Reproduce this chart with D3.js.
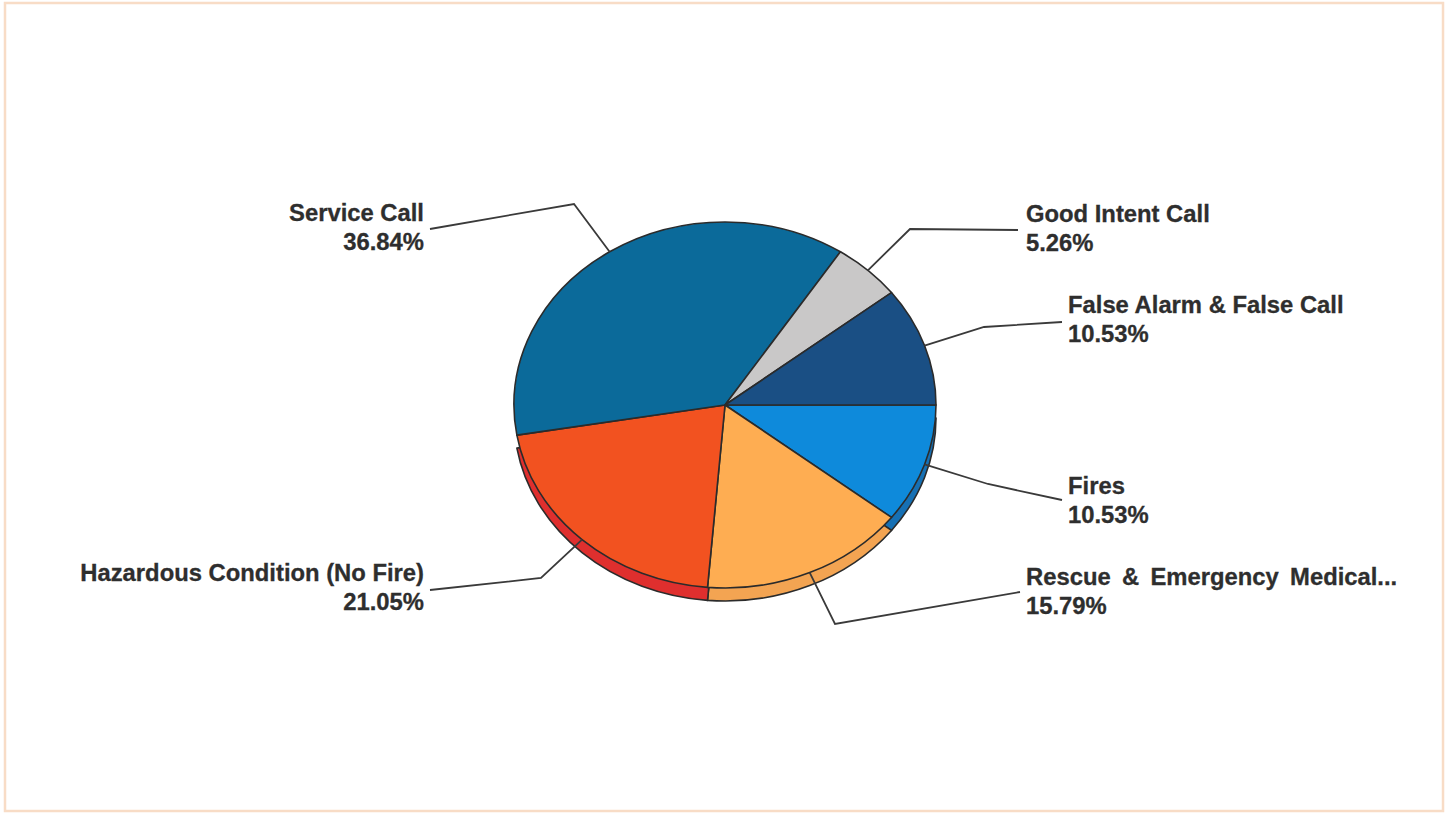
<!DOCTYPE html>
<html>
<head>
<meta charset="utf-8">
<script src="https://cdn.jsdelivr.net/npm/d3@7"></script>
<style>
  html, body { margin: 0; padding: 0; background: #fff; }
  svg { display: block; }
  text { font-family: "Liberation Sans", Arial, sans-serif; font-weight: bold; font-size: 23.8px; fill: #2e2e2e; stroke: #2e2e2e; stroke-width: 0.3px; }
</style>
</head>
<body>
<div id="chart"></div>
<script>
// slices run clockwise, starting at 3 o'clock
var categories = ["Fires", "Rescue & Emergency Medical...", "Hazardous Condition (No Fire)", "Service Call", "Good Intent Call", "False Alarm & False Call"];
var shares = [10.53, 15.79, 21.05, 36.84, 5.26, 10.53];
var topColors = ["#0E8ADB", "#FEAD52", "#F25220", "#0B6A9A", "#C9C8C8", "#1A4F84"];
var sideColors = ["#1670B4", "#F3A452", "#DF2F2E", "#0A5478", "#9C9C9C", "#143D66"];

var w = 1448, h = 814;
var cx = 725, cy = 405, rx = 211, ry = 183, depth = 13;

// where the leader bends, where it stops, where the two text lines go
var elbows = [[988, 484], [835, 624], [541, 578], [574, 204], [910, 229], [984, 327]];
var lineEnds = [[1062, 500], [1020, 592], [430, 590], [430, 229], [1018, 230], [1062, 322]];
var labelPos = [[1068, 494], [1026, 585], [424, 581], [424, 221], [1026, 222], [1068, 313]];
var wordGaps = [0, 4.7, 0, 0, 0, 0]; // the long label is stretched in the original
var lineGap = 28.5;

var svg = d3.select("#chart").append("svg").attr("width", w).attr("height", h);

// scanned page frame
svg.append("rect")
    .attr("x", 5).attr("y", 3).attr("width", 1438).attr("height", 808)
    .attr("fill", "#fff").attr("stroke", "#F8DCC6").attr("stroke-width", 2.5);

var pie = d3.pie().sort(null).startAngle(Math.PI / 2).endAngle(Math.PI * 2.5);
var slices = pie(shares);
var arc = d3.arc().innerRadius(0).outerRadius(rx);

function midAngle(d) {
    return (d.startAngle + d.endAngle) / 2;
}

function drawPie(yPos, data) {
    svg.append("g")
        .attr("transform", "translate(" + cx + "," + yPos + ") scale(1," + (ry / rx) + ")")
        .selectAll("path")
        .data(data)
        .enter()
        .append("path")
        .attr("d", arc)
        .attr("fill", function (d) { return yPos == cy ? topColors[d.index] : sideColors[d.index]; })
        .attr("stroke", "#2b2b2b")
        .attr("stroke-width", 1.6)
        .attr("stroke-linejoin", "round")
        .attr("vector-effect", "non-scaling-stroke");
}

// the lower copy shows as the rim, only slices facing the viewer get one
drawPie(cy + depth, slices.filter(function (d) { return Math.cos(midAngle(d)) < 0; }));
drawPie(cy, slices);

// leader lines start on the top ellipse at the middle of the slice
var leader = d3.line();
svg.selectAll("path.leader")
    .data(slices)
    .enter()
    .append("path")
    .attr("class", "leader")
    .attr("d", function (d, i) {
        var a = midAngle(d);
        var start = [cx + rx * Math.sin(a), cy - ry * Math.cos(a)];
        return leader([start, elbows[i], lineEnds[i]]);
    })
    .attr("fill", "none")
    .attr("stroke", "#3a3a3a")
    .attr("stroke-width", 1.8);

var labels = svg.selectAll("text.label")
    .data(categories)
    .enter()
    .append("text")
    .attr("class", "label")
    .attr("text-anchor", function (d, i) { return labelPos[i][0] < cx ? "end" : "start"; });

labels.append("tspan")
    .attr("x", function (d, i) { return labelPos[i][0]; })
    .attr("y", function (d, i) { return labelPos[i][1]; })
    .attr("word-spacing", function (d, i) { return wordGaps[i]; })
    .text(function (d) { return d; });

labels.append("tspan")
    .attr("x", function (d, i) { return labelPos[i][0]; })
    .attr("y", function (d, i) { return labelPos[i][1] + lineGap; })
    .text(function (d, i) { return d3.format(".2f")(shares[i]) + "%"; });
</script>
</body>
</html>
